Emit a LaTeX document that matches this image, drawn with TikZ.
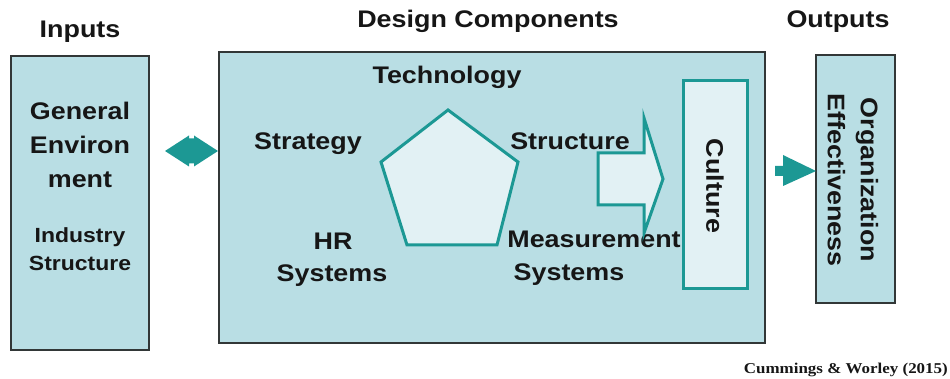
\documentclass[tikz,border=0pt]{standalone}
\usepackage{fontspec}
\setmainfont[FakeStretch=1.12]{Liberation Sans}
\newfontfamily\citefont[FakeStretch=1.13]{Liberation Serif}
\definecolor{boxfill}{RGB}{185,222,228}
\definecolor{tealc}{RGB}{28,152,148}
\definecolor{lightfill}{RGB}{226,241,244}
\definecolor{edgec}{RGB}{50,55,55}
\definecolor{ink}{RGB}{22,22,22}
\begin{document}
\begin{tikzpicture}[x=1pt,y=-1pt,
  panel/.style={draw=edgec, line width=1.6pt, fill=boxfill, anchor=north west, inner sep=0pt, outer sep=0pt},
  inner/.style={draw=tealc, line width=3pt, fill=lightfill, anchor=north west, inner sep=0pt, outer sep=0pt},
  lbl/.style={font=\fontsize{24}{32}\selectfont\bfseries, text=ink, inner sep=0pt},
  small/.style={font=\fontsize{20.5}{29}\selectfont\bfseries, text=ink, inner sep=0pt},
  fatarrow/.style={fill=tealc, draw=none}]
\useasboundingbox (0,0) rectangle (950,379);

% panels
\node[panel, minimum width=138, minimum height=294] (inputs) at (11,56) {};
\node[panel, minimum width=546, minimum height=291] (design) at (219,52) {};
\node[panel, minimum width=79, minimum height=248] (outputs) at (816,55) {};
\node[inner, minimum width=64, minimum height=208] (culture) at (683,81) {};

% headings
\node[lbl, anchor=base] (hin) at (80,38) {Inputs};
\node[lbl, anchor=base] (hdes) at (488,28) {Design Components};
\node[lbl, anchor=base] (hout) at (838,28) {Outputs};

% inputs text
\node[lbl, anchor=base] (gen1) at (80,120) {General};
\node[lbl, anchor=base] (gen2) at (80,154) {Environ};
\node[lbl, anchor=base] (gen3) at (80,188) {ment};
\node[small, anchor=base] (ind1) at (80,243) {Industry};
\node[small, anchor=base] (ind2) at (80,271) {Structure};

% pentagon
\coordinate (p1) at (448,110);
\coordinate (p2) at (518,162);
\coordinate (p3) at (497,245);
\coordinate (p4) at (407,245);
\coordinate (p5) at (381,162);
\draw[draw=tealc, line width=3pt, fill=lightfill, line join=miter] (p1) -- (p2) -- (p3) -- (p4) -- (p5) -- cycle;

% design component labels
\node[lbl, anchor=base] (tech) at (447,84) {Technology};
\node[lbl, anchor=base] (strat) at (308,150) {Strategy};
\node[lbl, anchor=base] (struct) at (570,150) {Structure};
\node[lbl, anchor=base] (hr1) at (333,250) {HR};
\node[lbl, anchor=base] (hr2) at (332,282) {Systems};
\node[lbl, anchor=base] (meas1) at (594,248) {Measurement};
\node[lbl, anchor=base] (meas2) at (569,280) {Systems};

% big hollow arrow to culture
\coordinate (ba) at (598,179);
\draw[draw=tealc, line width=3pt, fill=lightfill, line join=miter]
  (ba) ++(0,-26) -- ++(46,0) -- ++(0,-35) -- (663,179) -- (644,233) -- (644,205) -- (598,205) -- cycle;

% culture text
\node[lbl, rotate=-90] (cult) at (715,186) {Culture};

% outputs text
\node[lbl, rotate=-90, align=center, font=\fontsize{24}{33}\selectfont\bfseries] (org) at (853,180) {Organization\\Effectiveness};

% double arrow between inputs and design
\coordinate (dm) at (191.5,151);
\fill[tealc] (dm) ++(-26.5,0) -- ++(24,-15.5) -- ++(0,3) -- ++(5,0) -- ++(0,-3)
  -- ++(24,15.5) -- ++(-24,15.5) -- ++(0,-3) -- ++(-5,0) -- ++(0,3) -- cycle;

% arrow to outputs
\coordinate (ra) at (775,171);
\fill[tealc] (ra) ++(0,-5) -- ++(8,0) -- ++(0,-11) -- (outputs.west |- ra) -- (783,186) -- (783,176) -- (775,176) -- cycle;

% citation
\node[anchor=base east, inner sep=0pt, text=ink, font=\citefont\fontsize{15}{17}\selectfont\bfseries] (cite) at (948,373) {Cummings \& Worley (2015)};
\end{tikzpicture}
\end{document}
